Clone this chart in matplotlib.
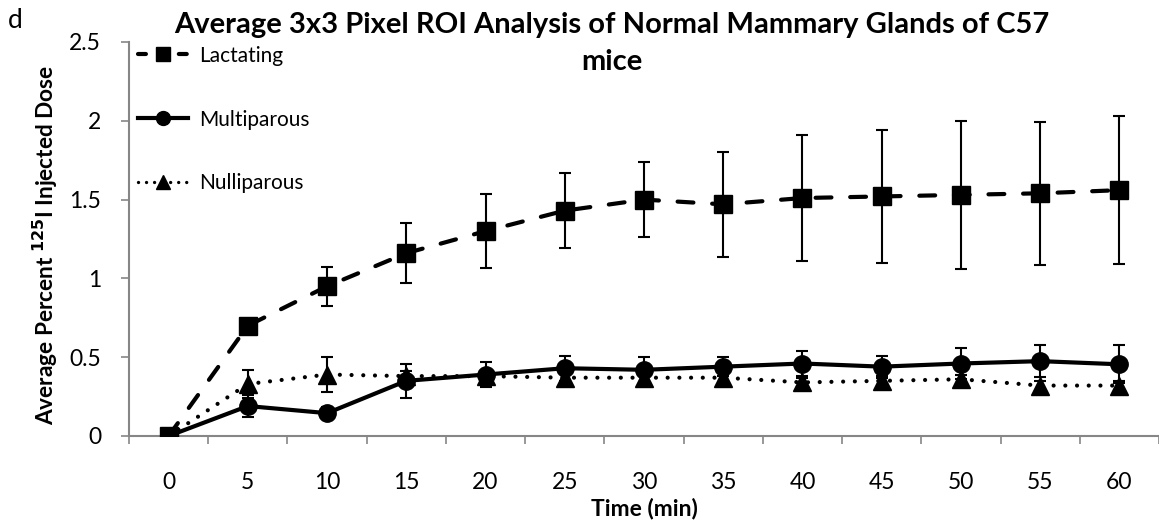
import matplotlib
matplotlib.use("Agg")
import matplotlib.pyplot as plt
from matplotlib.lines import Line2D

plt.rcParams['font.family'] = ['Lato', 'DejaVu Sans']

times = ['0', '5', '10', '15', '20', '25', '30', '35', '40', '45', '50', '55', '60']

lactating = [0.0, 0.70, 0.95, 1.16, 1.30, 1.43, 1.50, 1.47, 1.51, 1.52, 1.53, 1.54, 1.56]
lactating_err = [0.0, 0.03, 0.125, 0.19, 0.235, 0.24, 0.237, 0.335, 0.40, 0.42, 0.47, 0.455, 0.47]

multiparous = [0.0, 0.19, 0.145, 0.35, 0.39, 0.43, 0.42, 0.44, 0.46, 0.44, 0.46, 0.475, 0.455]
multiparous_err = [0.0, 0.07, 0.04, 0.11, 0.08, 0.08, 0.08, 0.06, 0.08, 0.07, 0.10, 0.10, 0.12]

nulliparous = [0.0, 0.33, 0.39, 0.38, 0.38, 0.37, 0.37, 0.37, 0.34, 0.35, 0.36, 0.32, 0.32]
nulliparous_err = [0.0, 0.09, 0.11, 0.03, 0.03, 0.03, 0.03, 0.03, 0.03, 0.03, 0.03, 0.03, 0.03]

W, H = 1159, 527
fig = plt.figure(figsize=(W / 100, H / 100), dpi=100)
ax = fig.add_axes([129 / W, (H - 436) / H, (W - 129) / W, (436 - 42) / H])

x = list(range(len(times)))
lw = 3.0
axis_grey = '#868686'
dash_style = (0, (3.8, 4.5))
dot_style = (0, (0.01, 2.8))
eb = dict(fmt='none', ecolor='black', elinewidth=1.5, capsize=4.5, capthick=1.5)

# nulliparous (dotted, triangles)
ax.errorbar(x, nulliparous, yerr=nulliparous_err, zorder=2, **eb)
ax.plot(x, nulliparous, color='black', lw=lw, linestyle=dot_style,
        dash_capstyle='round', marker='^', markersize=12.5, zorder=2.5)

# multiparous (solid, circles)
ax.errorbar(x, multiparous, yerr=multiparous_err, zorder=3, **eb)
ax.plot(x, multiparous, color='black', lw=lw, linestyle='-',
        marker='o', markersize=12.5, zorder=3.5)

# lactating (dashed, squares)
ax.errorbar(x, lactating, yerr=lactating_err, zorder=4, **eb)
ax.plot(x, lactating, color='black', lw=lw, linestyle=dash_style,
        dash_capstyle='round', marker='s', markersize=13, zorder=4.5)

ax.set_xlim(-0.5, len(times) - 0.5)
ax.set_ylim(0, 2.5)
ax.set_yticks([0, 0.5, 1, 1.5, 2, 2.5])
ax.set_yticklabels(['0', '0.5', '1', '1.5', '2', '2.5'])
ax.set_xticks(x)
ax.set_xticklabels(times)
ax.set_xticks([i - 0.5 for i in range(len(times) + 1)], minor=True)

ax.tick_params(axis='x', which='major', length=0, pad=26, labelsize=16.5)
ax.tick_params(axis='x', which='minor', length=6, width=1.2, color=axis_grey, direction='out')
ax.tick_params(axis='y', which='major', length=6, width=1.2, color=axis_grey,
               direction='out', labelsize=16.5, pad=14)

for s in ['top', 'right']:
    ax.spines[s].set_visible(False)
for s in ['left', 'bottom']:
    ax.spines[s].set_color(axis_grey)
    ax.spines[s].set_linewidth(1.5)

ax.set_xlabel('Time (min)', fontsize=16.5, fontweight='bold', labelpad=3)
fig.text(45 / W, 1 - 245 / H, 'Average Percent $^{\\mathbf{125}}$I Injected Dose',
         rotation=90, ha='center', va='center', fontsize=16.3, fontweight='bold')

fig.text(612 / W, 1 - 25 / H,
         'Average 3x3 Pixel ROI Analysis of Normal Mammary Glands of C57',
         ha='center', va='center', fontsize=21, fontweight='bold')
fig.text(612 / W, 1 - 62 / H, 'mice', ha='center', va='center',
         fontsize=21, fontweight='bold')
fig.text(8 / W, 1 - 20 / H, 'd', ha='left', va='center', fontsize=19)

handles = [
    Line2D([], [], color='black', lw=lw, linestyle=(0, (1.9, 3.0)),
           dash_capstyle='round', marker='s', markersize=10),
    Line2D([], [], color='black', lw=lw, linestyle='-', marker='o', markersize=10),
    Line2D([], [], color='black', lw=lw * 0.8, linestyle=(0, (0.01, 2.4)),
           dash_capstyle='round', marker='^', markersize=10),
]
leg = fig.legend(handles, ['Lactating', 'Multiparous', 'Nulliparous'],
                 loc='upper left', bbox_to_anchor=(119 / W, 1 - 27 / H),
                 frameon=False, fontsize=15, handlelength=2.4,
                 handletextpad=0.55, labelspacing=2.1)

fig.savefig('out.png', dpi=100)
